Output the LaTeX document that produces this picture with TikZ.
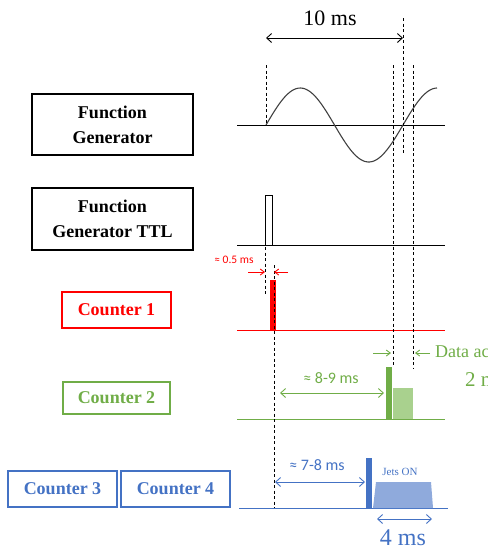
\documentclass[tikz,border=0pt]{standalone}
\usepackage{fontspec}
\setmainfont{Liberation Serif}
\newfontfamily\lblfont{Carlito}
\usetikzlibrary{arrows.meta}
\definecolor{cred}{RGB}{255,0,0}
\definecolor{cgreen}{RGB}{112,173,71}
\definecolor{cgreenl}{RGB}{169,209,142}
\definecolor{cblue}{RGB}{68,114,196}
\definecolor{cbluel}{RGB}{143,170,220}
\tikzset{
  box/.style={draw, line width=1.8pt, inner sep=0pt, align=center, font=\fontsize{18}{25}\selectfont\bfseries},
  axisline/.style={line width=1pt},
  dline/.style={line width=0.9pt, dash pattern=on 3pt off 2.5pt},
  dim/.style={line width=0.9pt, {Straight Barb[length=5pt,width=9pt]}-{Straight Barb[length=5pt,width=9pt]}},
  sarrow/.style={line width=0.9pt, -{Straight Barb[length=4pt,width=6pt]}},
  lbl/.style={font=\lblfont\fontsize{16}{18}\selectfont, inner sep=0pt},
}
\begin{document}
\begin{tikzpicture}[x=1pt,y=-1pt]
\useasboundingbox (0,0) rectangle (488,550);
\clip (0,0) rectangle (488,550);

% boxes
\node[box, minimum width=161pt, minimum height=61pt] (fg) at (112.5,124.5) {Function\\Generator};
\node[box, minimum width=161pt, minimum height=62pt] (ttl) at (112.5,219) {Function\\Generator TTL};
\node[box, draw=cred, text=cred, minimum width=109pt, minimum height=36pt] (c1) at (116.5,310) {Counter 1};
\node[box, draw=cgreen, text=cgreen, minimum width=107pt, minimum height=32pt] (c2) at (116.5,398) {Counter 2};
\node[box, draw=cblue, text=cblue, line width=2.2pt, minimum width=109pt, minimum height=36pt] (c3) at (62.5,489) {Counter 3};
\node[box, draw=cblue, text=cblue, line width=2.2pt, minimum width=109pt, minimum height=36pt] (c4) at (175.5,489) {Counter 4};

% function generator
\draw[axisline] (237,125) -- (445,125);
\draw[line width=1.1pt, black!75, smooth, samples=80, domain=266:437] plot (\x, {125 - 37*sin((\x-266)/137*360)});
% TTL
\draw[axisline] (237,245) -- (445,245);
\draw[line width=0.9pt] (265.5,245) -- (265.5,195) -- (272,195) -- (272,245);
% counter 1
\draw[axisline, cred] (237,330) -- (445,330);
\fill[cred] (270,280) rectangle (276,330);
% counter 2
\draw[axisline, cgreen] (237,419) -- (445,419);
\fill[cgreen] (386,367) rectangle (392,419);
\fill[cgreenl] (393,388) rectangle (413,419);
% counter 3/4
\draw[axisline, cblue] (239,508) -- (448,508);
\fill[cblue] (366,458) rectangle (372,508);
\fill[cbluel] (373,508) -- (376,482) -- (431,482) -- (433,508) -- cycle;

% dashed guides
\draw[dline] (266,65) -- (266,125);
\draw[dline] (403,18) -- (403,155);
\draw[dline] (393,65) -- (393,367);
\draw[dline] (413,65) -- (413,368);
\draw[dline] (265,247) -- (265,295);
\draw[dline] (274,265) -- (274,508);

% 10 ms
\draw[dim] (266,38) -- (403,38);
\node[font=\fontsize{22}{24}\selectfont] (t10) at (330,18) {10 ms};

% 0.5 ms
\node[font=\lblfont\fontsize{11.5}{12}\selectfont, text=cred, inner sep=0pt] (t05) at (234,260) {≈ 0.5 ms};
\draw[sarrow, cred] (248,272) -- (265,272);
\draw[sarrow, cred] (288,272) -- (274,272);

% 8-9 ms
\draw[dim, cgreen] (280,393) -- (384,393);
\node[lbl, text=cgreen] (t89) at (331,378) {≈ 8-9 ms};
\draw[sarrow, cgreen] (373,353) -- (391,353);
\draw[sarrow, cgreen] (430,353) -- (415,353);
\node[anchor=west, inner sep=0pt, text=cgreen, font=\fontsize{18}{20}\selectfont] (tda) at (435,353) {Data acquisition};
\node[anchor=west, inner sep=0pt, text=cgreen, font=\fontsize{21}{24}\selectfont] (t2) at (465,380) {2 ms};

% 7-8 ms
\draw[dim, cblue] (275,482) -- (365,482);
\node[lbl, text=cblue] (t78) at (317,465) {≈ 7-8 ms};
\node[font=\fontsize{11}{12}\selectfont, text=cblue, inner sep=0pt] (jets) at (400,472) {Jets ON};
\draw[dim, cblue] (377,519) -- (432,519);
\node[font=\fontsize{24}{26}\selectfont, text=cblue, inner sep=0pt] (t4) at (403,538) {4 ms};
\end{tikzpicture}
\end{document}
